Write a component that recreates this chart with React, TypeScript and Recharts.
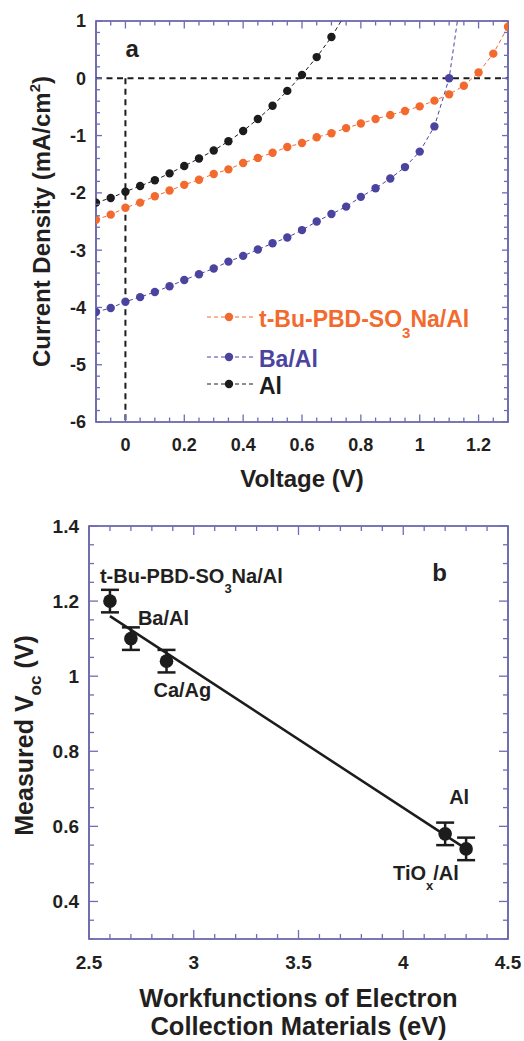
import React from 'react'
import {
  LineChart,
  ComposedChart,
  Line,
  Scatter,
  ErrorBar,
  XAxis,
  YAxis,
  ReferenceLine,
  ReferenceArea,
  ReferenceDot,
  Legend,
  Label,
} from 'recharts'

const FONT = '"Liberation Sans", Arial, Helvetica, sans-serif'
const INK = '#231f20'
const FRAME = '#4f4b9d'
const TICK = '#6f6bb5'
const ORANGE = '#f26a2e'
const BLUE = '#4b43a0'
const BLACK = '#1c1c1c'

// ---- panel a: J-V curves ----
const VOLTAGE = [
  -0.1, -0.05, 0, 0.05, 0.1, 0.15, 0.2, 0.25, 0.3, 0.35, 0.4, 0.45, 0.5, 0.55, 0.6,
  0.65, 0.7, 0.75, 0.8, 0.85, 0.9, 0.95, 1.0, 1.05, 1.1, 1.15, 1.2, 1.25, 1.3,
]
const J_TBU = [
  -2.47, -2.38, -2.26, -2.17, -2.06, -1.96, -1.86, -1.77, -1.67, -1.59, -1.48, -1.39,
  -1.3, -1.2, -1.13, -1.03, -0.96, -0.87, -0.79, -0.71, -0.64, -0.57, -0.49, -0.39,
  -0.28, -0.13, 0.1, 0.43, 0.9,
]
const J_BA = [
  -4.08, -4.01, -3.9, -3.82, -3.73, -3.63, -3.52, -3.42, -3.32, -3.2, -3.1, -2.99,
  -2.88, -2.78, -2.65, -2.5, -2.37, -2.24, -2.07, -1.92, -1.75, -1.55, -1.28, -0.84, 0.0,
]
const J_AL = [
  -2.17, -2.09, -1.98, -1.88, -1.78, -1.66, -1.53, -1.4, -1.26, -1.1, -0.92, -0.71,
  -0.48, -0.22, 0.06, 0.37, 0.72,
]
// the dashed guide keeps going past the last dot up to the frame
const BA_TAIL = { v: 1.128, j: 1.0 }
const AL_TAIL = { v: 0.733, j: 1.0 }

const NAME_TBU = 't-Bu-PBD-SO3Na/Al'
const NAME_BA = 'Ba/Al'
const NAME_AL = 'Al'

const A_X_TICKS = [
  -0.05, 0, 0.05, 0.1, 0.15, 0.2, 0.25, 0.3, 0.35, 0.4, 0.45, 0.5, 0.55, 0.6, 0.65,
  0.7, 0.75, 0.8, 0.85, 0.9, 0.95, 1, 1.05, 1.1, 1.15, 1.2, 1.25,
]
const A_X_LABELS = [0, 0.2, 0.4, 0.6, 0.8, 1, 1.2]
const A_Y_TICKS = [
  -6, -5.8, -5.6, -5.4, -5.2, -5, -4.8, -4.6, -4.4, -4.2, -4, -3.8, -3.6, -3.4, -3.2,
  -3, -2.8, -2.6, -2.4, -2.2, -2, -1.8, -1.6, -1.4, -1.2, -1, -0.8, -0.6, -0.4, -0.2,
  0, 0.2, 0.4, 0.6, 0.8, 1,
]
const A_Y_LABELS = [-6, -5, -4, -3, -2, -1, 0, 1]

// ---- panel b: Voc vs workfunction ----
const MATERIALS = ['t-Bu-PBD-SO3Na/Al', 'Ba/Al', 'Ca/Ag', 'Al', 'TiOx/Al']
const WORKFUNCTION = [2.6, 2.7, 2.87, 4.2, 4.3]
const VOC = [1.2, 1.1, 1.04, 0.58, 0.54]
const VOC_ERR = [0.03, 0.03, 0.03, 0.03, 0.03]
const FIT_W = [2.6, 4.3]
const FIT_VOC = [1.16, 0.54]

const B_X_TICKS = [
  2.5, 2.6, 2.7, 2.8, 2.9, 3, 3.1, 3.2, 3.3, 3.4, 3.5, 3.6, 3.7, 3.8, 3.9, 4, 4.1,
  4.2, 4.3, 4.4, 4.5,
]
const B_X_LABELS = [2.5, 3, 3.5, 4, 4.5]
const B_Y_TICKS = [
  0.3, 0.35, 0.4, 0.45, 0.5, 0.55, 0.6, 0.65, 0.7, 0.75, 0.8, 0.85, 0.9, 0.95, 1,
  1.05, 1.1, 1.15, 1.2, 1.25, 1.3, 1.35, 1.4,
]
const B_Y_LABELS = [0.4, 0.6, 0.8, 1, 1.2, 1.4]

// label placement around each point in panel b (dx, dy of text baseline start)
const LABEL_OFFSET: Record<string, [number, number]> = {
  't-Bu-PBD-SO3Na/Al': [-10, -18],
  'Ba/Al': [7, -14],
  'Ca/Ag': [-13, 36],
  Al: [4, -30],
  'TiOx/Al': [-73, 31],
}

// layout (axes are 1px thick so recharts still draws them)
const A_W = 524
const A_H = 500
const A_M = { top: 21, right: 16, bottom: 77, left: 95 }
const B_W = 524
const B_H = 541
const B_M = { top: 26, right: 16, bottom: 101, left: 88 }
const A_PW = A_W - A_M.left - A_M.right - 1
const A_PH = A_H - A_M.top - A_M.bottom - 1
const B_PW = B_W - B_M.left - B_M.right - 1
const B_PH = B_H - B_M.top - B_M.bottom - 1

const toSeries = (js: number[], tail?: { v: number; j: number }) => {
  const pts: any[] = js.map((j, i) => ({ v: VOLTAGE[i], j }))
  if (tail) pts.push({ ...tail, tail: true })
  return pts
}
const tbuData = toSeries(J_TBU)
const baData = toSeries(J_BA, BA_TAIL)
const alData = toSeries(J_AL, AL_TAIL)

const vocData = MATERIALS.map((name, i) => ({
  name,
  w: WORKFUNCTION[i],
  voc: VOC[i],
  err: VOC_ERR[i],
}))
const fitData = FIT_W.map((w, i) => ({ w, fit: FIT_VOC[i] }))

// sub/superscripts: SO3, TiOx
const chem = (s: string, size: number, shift: number) => {
  const m = s.match(/^(.*?(?:SO|TiO))([3x])(.*)$/)
  if (!m) return s
  return [
    <tspan key="a">{m[1]}</tspan>,
    <tspan key="b" dy={shift} fontSize={size}>
      {m[2]}
    </tspan>,
    <tspan key="c" dy={-shift}>
      {m[3]}
    </tspan>,
  ]
}

const xTick =
  (labels: number[], plotH: number, big: number, small: number, gap: number, size: number) =>
  (p: any) => {
    const { x, y, payload } = p
    const v = payload.value
    const major = labels.includes(v)
    const len = major ? big : small
    return (
      <g>
        <line x1={x} y1={y} x2={x} y2={y - len} stroke={TICK} strokeWidth={1.3} />
        <line x1={x} y1={y - plotH} x2={x} y2={y - plotH + len} stroke={TICK} strokeWidth={1.3} />
        {major && (
          <text
            x={x}
            y={y + gap}
            dy="0.36em"
            textAnchor="middle"
            fontFamily={FONT}
            fontWeight="bold"
            fontSize={size}
            fill={INK}
          >
            {String(v)}
          </text>
        )}
      </g>
    )
  }

const yTick =
  (labels: number[], plotW: number, big: number, small: number, gap: number, size: number) =>
  (p: any) => {
    const { x, y, payload } = p
    const v = payload.value
    const major = labels.includes(v)
    const len = major ? big : small
    return (
      <g>
        <line x1={x} y1={y} x2={x + len} y2={y} stroke={TICK} strokeWidth={1.3} />
        <line x1={x + plotW} y1={y} x2={x + plotW - len} y2={y} stroke={TICK} strokeWidth={1.3} />
        {major && (
          <text
            x={x - gap}
            y={y}
            dy="0.36em"
            textAnchor="end"
            fontFamily={FONT}
            fontWeight="bold"
            fontSize={size}
            fill={INK}
          >
            {String(v)}
          </text>
        )}
      </g>
    )
  }

const JvDot = (color: string) => (p: any) => {
  const { cx, cy, payload, index } = p
  if (payload.tail) return <g key={`t-${index}`} />
  return <circle key={`d-${index}`} cx={cx} cy={cy} r={4.2} fill={color} />
}

const LEGEND_ORDER = [NAME_TBU, NAME_BA, NAME_AL]
const LEGEND_ROWS = [22, 62, 89]

const LegendA = ({ payload }: any) => {
  const items = (payload || []).slice().sort(
    (a: any, b: any) => LEGEND_ORDER.indexOf(a.value) - LEGEND_ORDER.indexOf(b.value),
  )
  return (
    <svg width={320} height={110} style={{ display: 'block', overflow: 'visible' }}>
      {items.map((e: any, i: number) => {
        const cy = LEGEND_ROWS[i]
        return (
          <g key={e.value}>
            <line x1={7} y1={cy} x2={53} y2={cy} stroke={e.color} strokeWidth={1} strokeDasharray="4 3" />
            <circle cx={29} cy={cy} r={4.2} fill={e.color} />
            <text
              x={59}
              y={cy + 9.5}
              fontFamily={FONT}
              fontWeight="bold"
              fontSize={23}
              fill={e.color}
            >
              {chem(e.value, 15, 11)}
            </text>
          </g>
        )
      })}
    </svg>
  )
}

const VocDot = (p: any) => {
  const { cx, cy, payload } = p
  const off = LABEL_OFFSET[payload.name] || [0, 0]
  return (
    <g>
      <circle cx={cx} cy={cy} r={6.8} fill={BLACK} />
      <text
        x={cx + off[0]}
        y={cy + off[1]}
        fontFamily={FONT}
        fontWeight="bold"
        fontSize={20}
        fill={INK}
      >
        {chem(payload.name, 13, 10)}
      </text>
    </g>
  )
}

const panelLetter = (ch: string) => (p: any) => {
  const vb = p.viewBox || {}
  return (
    <text x={vb.x} y={vb.y} fontFamily={FONT} fontWeight="bold" fontSize={24} fill={INK}>
      {ch}
    </text>
  )
}

const textStyle = { fontFamily: FONT, fontWeight: 'bold' as const, fill: INK }

export default function App() {
  return (
    <div style={{ position: 'absolute', left: 0, top: 0, width: 524, height: 1041, background: '#fff' }}>
      <div style={{ position: 'absolute', left: 0, top: 0 }}>
        <LineChart width={A_W} height={A_H} margin={A_M}>
          <XAxis
            dataKey="v"
            type="number"
            domain={[-0.1, 1.3]}
            allowDataOverflow
            ticks={A_X_TICKS}
            interval={0}
            height={1}
            tickSize={0}
            tickMargin={0}
            axisLine={false}
            tickLine={false}
            tick={xTick(A_X_LABELS, A_PH, 7.5, 4.5, 23, 18)}
          >
            <Label
              content={({ viewBox }: any) => (
                <text x={viewBox.x + viewBox.width / 2} y={viewBox.y + 65} textAnchor="middle" fontSize={24} {...textStyle}>
                  Voltage (V)
                </text>
              )}
            />
          </XAxis>
          <YAxis
            type="number"
            domain={[-6, 1]}
            allowDataOverflow
            ticks={A_Y_TICKS}
            interval={0}
            width={1}
            tickSize={0}
            tickMargin={0}
            axisLine={false}
            tickLine={false}
            tick={yTick(A_Y_LABELS, A_PW, 6, 4, 10, 18)}
          >
            <Label
              content={({ viewBox }: any) => {
                const x = viewBox.x - 45
                const y = viewBox.y + viewBox.height / 2
                return (
                  <text x={x} y={y} transform={`rotate(-90 ${x} ${y})`} textAnchor="middle" fontSize={24} {...textStyle}>
                    <tspan>Current Density (mA/cm</tspan>
                    <tspan dy={-10} fontSize={15}>2</tspan>
                    <tspan dy={10}>)</tspan>
                  </text>
                )
              }}
            />
          </YAxis>
          <ReferenceArea x1={-0.1} x2={1.3} y1={-6} y2={1} fill="none" stroke={FRAME} strokeWidth={1.6} />
          <ReferenceLine y={0} stroke={BLACK} strokeWidth={2} strokeDasharray="6 4.5" />
          <ReferenceLine
            segment={[
              { x: 0, y: 0 },
              { x: 0, y: -6 },
            ]}
            stroke={BLACK}
            strokeWidth={2}
            strokeDasharray="6 4.5"
          />
          <ReferenceDot x={0} y={0.37} r={0} fill="none" stroke="none" label={{ content: panelLetter('a') }} />
          <Line
            data={tbuData}
            dataKey="j"
            name={NAME_TBU}
            stroke={ORANGE}
            strokeWidth={1}
            strokeDasharray="4 3"
            dot={JvDot(ORANGE)}
            activeDot={false}
            isAnimationActive={false}
          />
          <Line
            data={baData}
            dataKey="j"
            name={NAME_BA}
            stroke={BLUE}
            strokeWidth={1}
            strokeDasharray="4 3"
            dot={JvDot(BLUE)}
            activeDot={false}
            isAnimationActive={false}
          />
          <Line
            data={alData}
            dataKey="j"
            name={NAME_AL}
            stroke={BLACK}
            strokeWidth={1}
            strokeDasharray="4 3"
            dot={JvDot(BLACK)}
            activeDot={false}
            isAnimationActive={false}
          />
          <Legend
            layout="vertical"
            align="center"
            verticalAlign="middle"
            content={LegendA}
            wrapperStyle={{ left: 200, top: 295, width: 320, height: 110 }}
          />
        </LineChart>
      </div>

      <div style={{ position: 'absolute', left: 0, top: 500 }}>
        <ComposedChart width={B_W} height={B_H} margin={B_M}>
          <XAxis
            dataKey="w"
            type="number"
            domain={[2.5, 4.5]}
            allowDataOverflow
            ticks={B_X_TICKS}
            interval={0}
            height={1}
            tickSize={0}
            tickMargin={0}
            axisLine={false}
            tickLine={false}
            tick={xTick(B_X_LABELS, B_PH, 9, 5, 23, 19)}
          >
            <Label
              content={({ viewBox }: any) => {
                const cx = viewBox.x + viewBox.width / 2
                return (
                  <text textAnchor="middle" fontSize={25.5} {...textStyle}>
                    <tspan x={cx} y={viewBox.y + 68}>Workfunctions of Electron</tspan>
                    <tspan x={cx} y={viewBox.y + 96}>Collection Materials (eV)</tspan>
                  </text>
                )
              }}
            />
          </XAxis>
          <YAxis
            type="number"
            domain={[0.3, 1.4]}
            allowDataOverflow
            ticks={B_Y_TICKS}
            interval={0}
            width={1}
            tickSize={0}
            tickMargin={0}
            axisLine={false}
            tickLine={false}
            tick={yTick(B_Y_LABELS, B_PW, 9, 5, 10, 19)}
          >
            <Label
              content={({ viewBox }: any) => {
                const x = viewBox.x - 55
                const y = viewBox.y + viewBox.height / 2 + 3
                return (
                  <text x={x} y={y} transform={`rotate(-90 ${x} ${y})`} textAnchor="middle" fontSize={25} {...textStyle}>
                    <tspan>Measured V</tspan>
                    <tspan dy={8} fontSize={17}>oc</tspan>
                    <tspan dy={-8}> (V)</tspan>
                  </text>
                )
              }}
            />
          </YAxis>
          <ReferenceArea x1={2.5} x2={4.5} y1={0.3} y2={1.4} fill="none" stroke={FRAME} strokeWidth={1.6} />
          <ReferenceDot x={4.138} y={1.254} r={0} fill="none" stroke="none" label={{ content: panelLetter('b') }} />
          <Line
            data={fitData}
            dataKey="fit"
            stroke={BLACK}
            strokeWidth={2.5}
            dot={false}
            activeDot={false}
            isAnimationActive={false}
          />
          <Scatter data={vocData} dataKey="voc" shape={VocDot} isAnimationActive={false}>
            <ErrorBar dataKey="err" direction="y" width={9} strokeWidth={2.5} stroke={BLACK} />
          </Scatter>
        </ComposedChart>
      </div>
    </div>
  )
}
